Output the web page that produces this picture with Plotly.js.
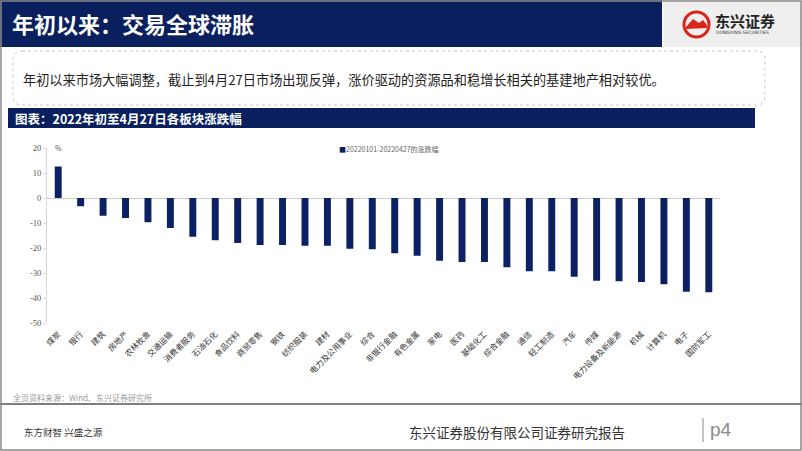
<!DOCTYPE html>
<html>
<head>
<meta charset="utf-8">
<script src="https://cdn.plot.ly/plotly-3.0.1.min.js"></script>
<style>
html,body{margin:0;padding:0;background:#fff;overflow:hidden;}
#chart{width:802px;height:451px;}
</style>
</head>
<body>
<div id="chart"></div>
<script>
// ---- data ----
const categories = ["煤炭","银行","建筑","房地产","农林牧渔","交通运输","消费者服务","石油石化","食品饮料","商贸零售",
  "钢铁","纺织服装","建材","电力及公用事业","综合","非银行金融","有色金属","家电","医药","基础化工",
  "综合金融","通信","轻工制造","汽车","传媒","电力设备及新能源","机械","计算机","电子","国防军工"];
const changePct = [12.6,-3.3,-7.1,-8.0,-9.7,-12.0,-15.5,-16.9,-18.0,-18.8,
  -18.8,-19.1,-19.1,-20.3,-20.5,-22.1,-23.1,-25.1,-25.6,-25.6,
  -27.7,-29.3,-29.3,-31.5,-33.1,-33.3,-33.6,-34.5,-37.5,-37.7];
const seriesName = "20220101-20220427的涨跌幅";
const yTickVals = [20,10,0,-10,-20,-30,-40,-50];
const yUnit = "%";

// ---- layout helpers (pixel -> paper) ----
const W = 802, H = 451;
const X = p => p / W;
const Y = p => 1 - p / H;
const NAVY = "#0b2163";
const CJK = "Noto Sans CJK SC";

function roundRect(x0, y0, x1, y1, r) {
  const rx = r / W, ry = r / H;
  const a = X(x0), b = X(x1), t = Y(y0), u = Y(y1);
  return `M ${a+rx},${t} L ${b-rx},${t} Q ${b},${t} ${b},${t-ry} L ${b},${u+ry} Q ${b},${u} ${b-rx},${u} ` +
         `L ${a+rx},${u} Q ${a},${u} ${a},${u+ry} L ${a},${t-ry} Q ${a},${t} ${a+rx},${t} Z`;
}

function ann(text, x, y, size, color, opts) {
  return Object.assign({
    text: text, x: X(x), y: Y(y), xref: "paper", yref: "paper",
    xanchor: "left", yanchor: "middle", showarrow: false,
    font: {family: CJK, size: size, color: color}
  }, opts || {});
}

const trace = {
  type: "bar",
  x: categories,
  y: changePct,
  name: seriesName,
  marker: {color: NAVY},
  showlegend: false,
  hoverinfo: "skip"
};

const shapes = [
  {type: "rect", xref: "paper", yref: "paper", x0: X(0), x1: X(662), y0: Y(0), y1: Y(47), fillcolor: "#0a1f5e", line: {width: 0}, layer: "below"},
  {type: "rect", xref: "paper", yref: "paper", x0: X(663), x1: X(802), y0: Y(0), y1: Y(47), fillcolor: "#efefef", line: {width: 0}, layer: "below"},
  {type: "circle", xref: "paper", yref: "paper", x0: X(684), x1: X(709), y0: Y(12), y1: Y(37), line: {color: "#d9261c", width: 3}},
  {type: "path", xref: "paper", yref: "paper", fillcolor: "#d9261c", line: {width: 0},
   path: `M ${X(686)},${Y(27)} L ${X(693)},${Y(19)} L ${X(699)},${Y(23)} L ${X(703)},${Y(20)} L ${X(707)},${Y(25)} L ${X(707)},${Y(28)} L ${X(686)},${Y(29)} Z`},
  {type: "path", xref: "paper", yref: "paper", path: roundRect(13, 51, 765, 105, 9), line: {color: "#c8c8c8", width: 1, dash: "dot"}},
  {type: "rect", xref: "paper", yref: "paper", x0: X(8), x1: X(755), y0: Y(108), y1: Y(128), fillcolor: "#0a1f5e", line: {width: 0}, layer: "below"},
  {type: "line", xref: "paper", yref: "paper", x0: X(0), x1: X(802), y0: Y(404), y1: Y(404), line: {color: "#7f7f7f", width: 2}},
  {type: "line", xref: "paper", yref: "paper", x0: X(703), x1: X(703), y0: Y(418), y1: Y(442), line: {color: "#8a8a8a", width: 1}},
  {type: "rect", xref: "paper", yref: "paper", x0: X(1), x1: X(801), y0: Y(1), y1: Y(450), line: {color: "#8a8a8a", width: 1.5}, layer: "above"}
];

const annotations = [
  ann("<b>年初以来：交易全球滞胀</b>", 10, 23, 22, "#ffffff"),
  ann("<b>东兴证券</b>", 713, 21, 15, "#222222"),
  ann("DONGXING SECURITIES", 714, 33, 4.5, "#333333", {font: {family: "DejaVu Sans", size: 4.5, color: "#333"}}),
  ann("年初以来市场大幅调整，截止到4月27日市场出现反弹，涨价驱动的资源品和稳增长相关的基建地产相对较优。", 21, 79, 13.2, "#222222"),
  ann("<b>图表：2022年初至4月27日各板块涨跌幅</b>", 13, 118, 12.5, "#ffffff"),
  ann(`<span style="color:${NAVY}">■</span>` + seriesName, 337, 149, 7, "#666666"),
  ann(yUnit, 53, 148, 7, "#555555"),
  ann("全页资料来源：Wind、东兴证券研究所", 11, 397, 8, "#9a9a9a"),
  ann("东方财智 兴盛之源", 22, 432, 9.5, "#333333"),
  ann("东兴证券股份有限公司证券研究报告", 407, 432, 13.5, "#333333"),
  ann("p4", 708, 429, 19, "#8a8a8a", {font: {family: "Liberation Sans", size: 19, color: "#8a8a8a"}})
];

const layout = {
  width: W, height: H,
  margin: {l: 0, r: 0, t: 0, b: 0},
  paper_bgcolor: "#ffffff", plot_bgcolor: "rgba(0,0,0,0)",
  bargap: 0.69,
  xaxis: {
    domain: [X(47), X(720)],
    type: "category",
    tickangle: -45,
    ticks: "",
    ticklabelstandoff: 4,
    showline: false,
    showgrid: false,
    automargin: false,
    tickfont: {family: CJK, size: 8, color: "#333333"}
  },
  yaxis: {
    domain: [Y(323), Y(148)],
    range: [-50, 20],
    tickvals: yTickVals,
    ticktext: yTickVals.map(v => String(v)),
    showline: true, linecolor: "#d6d6d6", linewidth: 1,
    ticks: "outside", ticklen: 3, tickcolor: "#d6d6d6",
    showgrid: false,
    zeroline: true, zerolinecolor: "#cfcfc4", zerolinewidth: 1,
    automargin: false,
    tickfont: {family: "Liberation Serif", size: 8.5, color: "#555555"}
  },
  shapes: shapes,
  annotations: annotations
};

Plotly.newPlot("chart", [trace], layout, {staticPlot: true, displayModeBar: false});
</script>
</body>
</html>
